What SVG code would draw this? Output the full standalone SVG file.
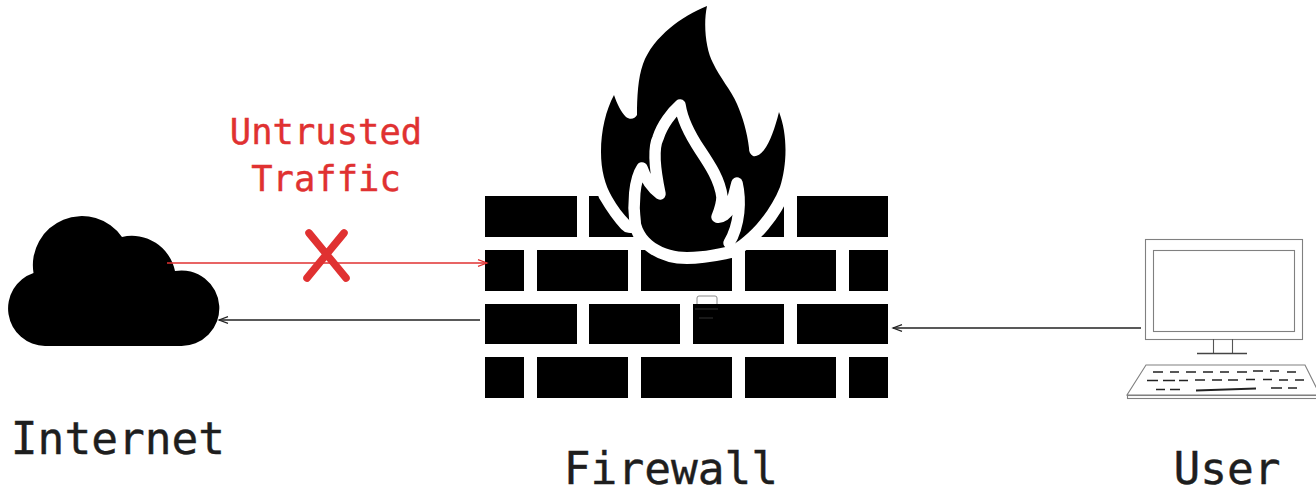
<svg xmlns="http://www.w3.org/2000/svg" width="1316" height="488" viewBox="0 0 1316 488">
<style>
.lbl{font-family:"DejaVu Sans Mono","Liberation Mono",monospace;text-anchor:middle;fill:#1e1e1e;stroke:#1e1e1e;stroke-width:.4}
.big{font-size:44.500px}
.red{font-size:35.500px;fill:#e03131;stroke:#e03131}
.brick{fill:#000}
.pc{fill:#fff;stroke:#808080;stroke-width:1.1}
.keys{fill:none;stroke:#222;stroke-width:1.6}
.wire{fill:none;stroke:#222;stroke-width:1.4}
.wire.r{stroke:#e03131}
</style>
<defs>
<marker id="a" markerUnits="userSpaceOnUse" markerWidth="12" markerHeight="10" refX="10" refY="5" orient="auto"><path d="M1 1.6L10 5L1 8.4" fill="none" stroke="#222" stroke-width="1.2"/></marker>
<marker id="ar" markerUnits="userSpaceOnUse" markerWidth="12" markerHeight="10" refX="10" refY="5" orient="auto"><path d="M1 1.6L10 5L1 8.4" fill="none" stroke="#e03131" stroke-width="1.2"/></marker>
</defs>
<g id="internet">
<path fill="#000" d="M45 346A37.5 37.5 0 0 1 33.5 273A49 49 0 0 1 122 237A44 44 0 0 1 175 271A37.8 37.8 0 1 1 180 346Z"/>
<text class="lbl big" x="118" y="454">Internet</text>
</g>
<g id="firewall">
<g class="brick">
<rect x="485" y="196" width="92" height="41"/><rect x="589" y="196" width="91" height="41"/><rect x="693" y="196" width="91" height="41"/><rect x="797" y="196" width="91" height="41"/>
<rect x="485" y="250" width="39" height="41"/><rect x="537" y="250" width="91" height="41"/><rect x="641" y="250" width="91" height="41"/><rect x="745" y="250" width="91" height="41"/><rect x="849" y="250" width="39" height="41"/>
<rect x="485" y="304" width="92" height="40"/><rect x="589" y="304" width="91" height="40"/><rect x="693" y="304" width="91" height="40"/><rect x="797" y="304" width="91" height="40"/>
<rect x="485" y="357" width="39" height="41"/><rect x="537" y="357" width="91" height="41"/><rect x="641" y="357" width="91" height="41"/><rect x="745" y="357" width="91" height="41"/><rect x="849" y="357" width="39" height="41"/>
</g>
<path id="flame-halo" fill="#fff" stroke="#fff" stroke-width="24" stroke-linejoin="round" d="M610 193Q620 210 630 221L640 215C640 240 665 252 687 252C705 252 720 248 731 246C750 235 770 212 780 187C787 165 788 135 779 112Z"/>
<rect x="628" y="237" width="13" height="13" fill="#fff"/><rect x="732" y="237" width="13" height="13" fill="#fff"/>
<path id="flame" fill="#000" d="M707 6C695 11 680 19 670 28C658 38 648 50 643 64C638 78 637 97 637 115C635 119 630 120 626 117C621 112 617 104 614 95C606 110 601 130 601 152C601 170 605 185 612 197C617 206 623 214 630 221L640 215C640 240 665 252 687 252C705 252 720 248 731 246C750 235 770 212 780 187C787 165 788 135 779 112C775 128 770 142 764 150C760 155 756 157 753 156C750 154 749 152 749 148C747 132 743 118 737 104C731 90 720 78 713 63C706 50 703 25 707 6Z"/>
<path fill="none" stroke="#fff" stroke-width="11.5" stroke-linecap="round" stroke-linejoin="round" d="M635 222C633 205 634 180 642 168C646 180 652 188 660 194C656 175 652 150 658 138C662 125 672 112 680 105C682 118 688 132 700 150C710 165 720 180 722 197C722 205 719 212 717 217C722 218 727 214 730 208C733 200 735 190 737 183C741 200 740 225 729 243"/>
<path fill="none" stroke="#8a8a8a" stroke-width="1" d="M697 304V298Q697 296 699 296H715Q717 296 717 298V304"/>
<path fill="none" stroke="#333" stroke-width="1" d="M695 309H718M699 318H713"/>
<text class="lbl big" x="671" y="484">Firewall</text>
</g>
<g id="user">
<rect class="pc" x="1145.500" y="239.500" width="157" height="100"/>
<rect class="pc" x="1153.500" y="250.500" width="141" height="81"/>
<path fill="none" stroke="#555" stroke-width="1.100" d="M1213.500 339V353M1232.500 339V353"/>
<path fill="none" stroke="#444" stroke-width="1.500" d="M1197 353.500H1247"/>
<path class="pc" d="M1146 365H1305L1320 395H1127Z"/>
<rect class="pc" x="1127.500" y="395.500" width="192" height="3"/>
<path class="keys" d="M1153 372H1163M1170 372H1179M1186 372H1196M1203 372H1213M1220 372H1229M1237 372H1247M1253 371H1263M1270 371H1279M1287 372H1296M1147 380.500H1158M1163 380.500H1175M1179 380.500H1188M1195 380H1205M1212 380H1222M1228 380H1238M1246 379.500H1255M1263 379.500H1272M1279 380H1288M1295 380H1304M1156 389.500H1165M1170 389.500H1180M1271 388H1282M1288 388H1297"/>
<path fill="none" stroke="#222" stroke-width="1.800" d="M1196 390.500L1256 388.500"/>
<text class="lbl big" x="1227" y="484">User</text>
</g>
<g id="connectors">
<path class="wire r" marker-end="url(#ar)" d="M167 263H487"/>
<path class="wire" marker-end="url(#a)" d="M480 320H219"/>
<path class="wire" marker-end="url(#a)" d="M1141 328H893"/>
</g>
<g id="untrusted">
<path fill="none" stroke="#e03131" stroke-width="7.500" stroke-linecap="round" d="M344 233L307 278M309 233L346 278"/>
<text class="lbl red" x="326" y="144">Untrusted</text>
<text class="lbl red" x="326" y="191">Traffic</text>
</g>
</svg>
